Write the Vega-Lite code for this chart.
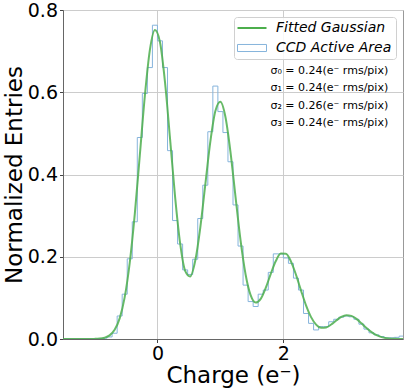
{
  "$schema": "https://vega.github.io/schema/vega-lite/v6.json",
  "width": 340,
  "height": 329,
  "autosize": "none",
  "padding": {"left": 63, "top": 10, "right": 4, "bottom": 52},
  "background": "white",
  "datasets": {
    "hist": [
      {"charge": -1.52, "entries": 0}, {"charge": -1.44, "entries": 0}, {"charge": -1.36, "entries": 0},
      {"charge": -1.28, "entries": 0}, {"charge": -1.2, "entries": 0}, {"charge": -1.12, "entries": 0},
      {"charge": -1.04, "entries": 0}, {"charge": -0.96, "entries": 0.0005}, {"charge": -0.88, "entries": 0.002},
      {"charge": -0.8, "entries": 0.005}, {"charge": -0.72, "entries": 0.014}, {"charge": -0.64, "entries": 0.056},
      {"charge": -0.56, "entries": 0.109}, {"charge": -0.48, "entries": 0.195}, {"charge": -0.4, "entries": 0.285},
      {"charge": -0.32, "entries": 0.49}, {"charge": -0.24, "entries": 0.597}, {"charge": -0.16, "entries": 0.66},
      {"charge": -0.08, "entries": 0.763}, {"charge": 0.0, "entries": 0.725}, {"charge": 0.08, "entries": 0.66},
      {"charge": 0.16, "entries": 0.458}, {"charge": 0.24, "entries": 0.288}, {"charge": 0.32, "entries": 0.231},
      {"charge": 0.4, "entries": 0.168}, {"charge": 0.48, "entries": 0.157}, {"charge": 0.56, "entries": 0.194},
      {"charge": 0.64, "entries": 0.293}, {"charge": 0.72, "entries": 0.374}, {"charge": 0.8, "entries": 0.504},
      {"charge": 0.88, "entries": 0.615}, {"charge": 0.96, "entries": 0.553}, {"charge": 1.04, "entries": 0.502},
      {"charge": 1.12, "entries": 0.431}, {"charge": 1.2, "entries": 0.326}, {"charge": 1.28, "entries": 0.226},
      {"charge": 1.36, "entries": 0.131}, {"charge": 1.44, "entries": 0.091}, {"charge": 1.52, "entries": 0.079},
      {"charge": 1.6, "entries": 0.109}, {"charge": 1.68, "entries": 0.119}, {"charge": 1.76, "entries": 0.162},
      {"charge": 1.84, "entries": 0.207}, {"charge": 1.92, "entries": 0.207}, {"charge": 2.0, "entries": 0.197},
      {"charge": 2.08, "entries": 0.184}, {"charge": 2.16, "entries": 0.148}, {"charge": 2.24, "entries": 0.119},
      {"charge": 2.32, "entries": 0.062}, {"charge": 2.4, "entries": 0.038}, {"charge": 2.48, "entries": 0.022},
      {"charge": 2.56, "entries": 0.03}, {"charge": 2.64, "entries": 0.03}, {"charge": 2.72, "entries": 0.042},
      {"charge": 2.8, "entries": 0.048}, {"charge": 2.88, "entries": 0.053}, {"charge": 2.96, "entries": 0.056},
      {"charge": 3.04, "entries": 0.054}, {"charge": 3.12, "entries": 0.048}, {"charge": 3.2, "entries": 0.036},
      {"charge": 3.28, "entries": 0.024}, {"charge": 3.36, "entries": 0.015}, {"charge": 3.44, "entries": 0.01},
      {"charge": 3.52, "entries": 0.006}, {"charge": 3.6, "entries": 0.003}, {"charge": 3.68, "entries": 0.003},
      {"charge": 3.76, "entries": 0.004}, {"charge": 3.84, "entries": 0.007}, {"charge": 3.92, "entries": 0.007}
    ],
    "fit": [
      {"charge": -1.52, "entries": 0}, {"charge": -1.48, "entries": 0}, {"charge": -1.4, "entries": 0},
      {"charge": -1.32, "entries": 0}, {"charge": -1.24, "entries": 0}, {"charge": -1.16, "entries": 0},
      {"charge": -1.08, "entries": 0.0001}, {"charge": -1.0, "entries": 0.0003}, {"charge": -0.92, "entries": 0.001},
      {"charge": -0.84, "entries": 0.0032}, {"charge": -0.76, "entries": 0.0089}, {"charge": -0.68, "entries": 0.0223},
      {"charge": -0.6, "entries": 0.0502}, {"charge": -0.52, "entries": 0.1018}, {"charge": -0.44, "entries": 0.1854},
      {"charge": -0.36, "entries": 0.3036}, {"charge": -0.28, "entries": 0.4468}, {"charge": -0.2, "entries": 0.5911},
      {"charge": -0.12, "entries": 0.7029}, {"charge": -0.04, "entries": 0.7514}, {"charge": 0.04, "entries": 0.7222},
      {"charge": 0.12, "entries": 0.6246}, {"charge": 0.2, "entries": 0.4873}, {"charge": 0.28, "entries": 0.3464},
      {"charge": 0.36, "entries": 0.233}, {"charge": 0.44, "entries": 0.1658}, {"charge": 0.52, "entries": 0.1521},
      {"charge": 0.6, "entries": 0.1901}, {"charge": 0.68, "entries": 0.2704}, {"charge": 0.76, "entries": 0.3756},
      {"charge": 0.84, "entries": 0.4798}, {"charge": 0.92, "entries": 0.5543}, {"charge": 1.0, "entries": 0.5766},
      {"charge": 1.08, "entries": 0.5397}, {"charge": 1.16, "entries": 0.4547}, {"charge": 1.24, "entries": 0.3458},
      {"charge": 1.32, "entries": 0.2398}, {"charge": 1.4, "entries": 0.1569}, {"charge": 1.48, "entries": 0.1065},
      {"charge": 1.56, "entries": 0.0886}, {"charge": 1.64, "entries": 0.0976}, {"charge": 1.72, "entries": 0.1244},
      {"charge": 1.8, "entries": 0.1586}, {"charge": 1.88, "entries": 0.1896}, {"charge": 1.96, "entries": 0.2077},
      {"charge": 2.04, "entries": 0.2075}, {"charge": 2.12, "entries": 0.1889}, {"charge": 2.2, "entries": 0.1564},
      {"charge": 2.28, "entries": 0.1181}, {"charge": 2.36, "entries": 0.0818}, {"charge": 2.44, "entries": 0.0532},
      {"charge": 2.52, "entries": 0.035}, {"charge": 2.6, "entries": 0.0272}, {"charge": 2.68, "entries": 0.0282},
      {"charge": 2.76, "entries": 0.0352}, {"charge": 2.84, "entries": 0.0449}, {"charge": 2.92, "entries": 0.0536},
      {"charge": 3.0, "entries": 0.0579}, {"charge": 3.08, "entries": 0.0562}, {"charge": 3.16, "entries": 0.0489},
      {"charge": 3.24, "entries": 0.0381}, {"charge": 3.32, "entries": 0.0266}, {"charge": 3.4, "entries": 0.0166},
      {"charge": 3.48, "entries": 0.0092}, {"charge": 3.56, "entries": 0.0046}, {"charge": 3.64, "entries": 0.0021},
      {"charge": 3.72, "entries": 0.0008}, {"charge": 3.8, "entries": 0.0003}, {"charge": 3.88, "entries": 0.0001},
      {"charge": 3.96, "entries": 0.0}
    ],
    "notes": [
      {"note": "sigma"}
    ]
  },
  "layer": [
    {
      "data": {"name": "hist"},
      "mark": {"type": "line", "interpolate": "step-after", "strokeWidth": 1, "clip": true},
      "encoding": {
        "x": {"field": "charge", "type": "quantitative",
          "scale": {"domain": [-1.5, 3.9], "nice": false},
          "axis": {"title": "Charge (e⁻)", "values": [0, 2], "format": "d", "grid": true, "titlePadding": 1}},
        "y": {"field": "entries", "type": "quantitative",
          "scale": {"domain": [0, 0.8], "nice": false},
          "axis": {"title": "Normalized Entries", "values": [0, 0.2, 0.4, 0.6, 0.8], "format": ".1f", "grid": true, "titlePadding": 1}},
        "color": {"datum": "CCD Active Area",
          "scale": {"domain": ["Fitted Gaussian", "CCD Active Area"], "range": ["#4cae4c", "#86b4dc"]},
          "legend": {
            "title": null,
            "orient": "top-right",
            "offset": 7,
            "padding": 4,
            "symbolOffset": 7,
            "labelOffset": 17,
            "rowPadding": 6,
            "symbolSize": 256,
            "symbolStrokeWidth": 1,
            "fillColor": "rgba(255,255,255,0.85)",
            "strokeColor": "#d0d0d0",
            "cornerRadius": 3,
            "labelFont": "DejaVu Sans",
            "labelFontSize": 14,
            "labelFontStyle": "italic",
            "labelColor": "black",
            "encode": {
              "symbols": {
                "enter": {
                  "shape": {"signal": "datum.index === 0 ? 'M-1.8125,0H1.8125' : 'M-1.8125,-0.44H1.8125V0.44H-1.8125Z'"}
                },
                "update": {
                  "shape": {"signal": "datum.index === 0 ? 'M-1.8125,0H1.8125' : 'M-1.8125,-0.44H1.8125V0.44H-1.8125Z'"},
                  "fill": {"value": "transparent"},
                  "strokeWidth": {"signal": "datum.index === 0 ? 2 : 1"}
                }
              }
            }
          }
        }
      }
    },
    {
      "data": {"name": "fit"},
      "mark": {"type": "line", "interpolate": "monotone", "strokeWidth": 2, "opacity": 0.85, "clip": true},
      "encoding": {
        "x": {"field": "charge", "type": "quantitative"},
        "y": {"field": "entries", "type": "quantitative"},
        "color": {"datum": "Fitted Gaussian"}
      }
    },
    {
      "data": {"name": "notes"},
      "mark": {
        "type": "text",
        "text": ["σ₀ = 0.24(e⁻ rms/pix)", "σ₁ = 0.24(e⁻ rms/pix)", "σ₂ = 0.26(e⁻ rms/pix)", "σ₃ = 0.24(e⁻ rms/pix)"],
        "align": "right",
        "baseline": "alphabetic",
        "lineHeight": 17.5,
        "font": "DejaVu Sans",
        "fontSize": 11,
        "color": "black"
      },
      "encoding": {
        "x": {"datum": 3.665, "type": "quantitative"},
        "y": {"datum": 0.645, "type": "quantitative"}
      }
    }
  ],
  "config": {
    "view": {"stroke": "#999999"},
    "font": "DejaVu Sans",
    "axis": {
      "labelFont": "DejaVu Sans",
      "titleFont": "DejaVu Sans",
      "labelFontSize": 19,
      "titleFontSize": 23,
      "titleFontWeight": "normal",
      "labelColor": "black",
      "titleColor": "black",
      "gridColor": "#cccccc",
      "gridWidth": 1,
      "tickColor": "#444444",
      "tickSize": 3.5,
      "labelPadding": 2,
      "domainColor": "#666666",
      "labelFlush": false
    }
  }
}
